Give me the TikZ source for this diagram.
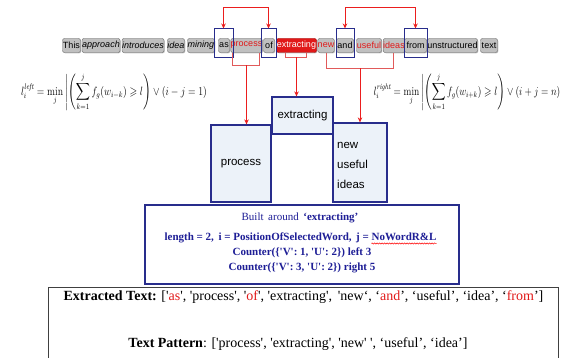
\documentclass[tikz,border=0pt]{standalone}
\usepackage{amsmath,amssymb}
\usepackage{fontspec}
\setsansfont{Liberation Sans}
\newfontfamily\tnr{Liberation Serif}
\usetikzlibrary{shadows,calc,decorations.pathmorphing,arrows.meta}
\definecolor{navy}{RGB}{40,45,140}
\definecolor{navytxt}{RGB}{30,30,150}
\definecolor{boxfill}{RGB}{236,242,249}
\definecolor{wgray}{RGB}{192,192,192}
\definecolor{wred}{RGB}{225,25,25}
\definecolor{ared}{RGB}{235,30,30}
\definecolor{bred}{RGB}{225,90,90}
\begin{document}
\begin{tikzpicture}[x=1pt,y=-1pt,
  word/.style={draw=black!60, rounded corners=2pt, fill=wgray, inner sep=0pt, minimum height=14pt,
    font=\fontsize{9}{10}\selectfont\sffamily,
    drop shadow={shadow xshift=0.8pt, shadow yshift=-0.8pt, opacity=0.45}},
  hl/.style={draw=navy, line width=1pt, inner sep=0pt, minimum height=29pt},
  redarr/.style={draw=ared, line width=1pt},
  tip/.style={-{Stealth[length=5pt,width=4.5pt]}},
  bracket/.style={draw=bred, line width=0.6pt},
  bbox/.style={draw=navy, line width=1.2pt, fill=boxfill, inner sep=0pt, font=\fontsize{11.5}{14}\selectfont\sffamily},
  bt/.style={text=navytxt, inner sep=0pt, font=\fontsize{11}{13}\selectfont\tnr\bfseries},
  ot/.style={inner sep=0pt, font=\fontsize{14}{16}\selectfont\tnr},
  fml/.style={inner sep=0pt, font=\fontsize{12}{14}\selectfont},
  wavy/.style={draw=red, line width=0.5pt, decorate, decoration={snake, amplitude=0.6pt, segment length=2.5pt}}
]
\useasboundingbox (0,0) rectangle (566,358);

% word row
\node[word, minimum width=18] (w1) at (71.5,45.5) {This};
\node[word, minimum width=38, font=\fontsize{9}{10}\selectfont\sffamily\itshape] (w2) at (101,45.5) {approach};
\node[word, minimum width=42, font=\fontsize{9}{10}\selectfont\sffamily\itshape] (w3) at (143,45.5) {introduces};
\node[word, minimum width=17, font=\fontsize{9}{10}\selectfont\sffamily\itshape] (w4) at (176,45.5) {idea};
\node[word, minimum width=27, font=\fontsize{9}{10}\selectfont\sffamily\itshape] (w5) at (201,45.5) {mining};
\node[word, minimum width=11] (w6) at (224,45.5) {as};
\node[word, minimum width=30, text=wred] (w7) at (246.5,45.5) {process};
\node[word, minimum width=11] (w8) at (269,45.5) {of};
\node[word, minimum width=40, fill=wred, draw=red!60!black, text=white] (w9) at (296.5,45.5) {extracting};
\node[word, minimum width=15, text=wred] (w10) at (326,45.5) {new};
\node[word, minimum width=17] (w11) at (345,45.5) {and};
\node[word, minimum width=25, text=wred] (w12) at (369,45.5) {useful};
\node[word, minimum width=19, text=wred] (w13) at (394,45.5) {ideas};
\node[word, minimum width=22] (w14) at (415.5,45.5) {from};
\node[word, minimum width=50] (w15) at (452.5,45.5) {unstructured};
\node[word, minimum width=17] (w16) at (489,45.5) {text};

% highlight rectangles
\node[hl, minimum width=19] (hlas) at (223.5,43.5) {};
\node[hl, minimum width=15] (hlof) at (268.5,43.5) {};
\node[hl, minimum width=18] (hland) at (345,43.5) {};
\node[hl, minimum width=23] (hlfrom) at (415.5,43.5) {};

% top arrows
\draw[redarr, {Stealth[length=5pt,width=4.5pt]}-{Stealth[length=5pt,width=4.5pt]}] (hlas.north) -- ++(0,-21) -| (hlof.north);
\draw[redarr, {Stealth[length=5pt,width=4.5pt]}-{Stealth[length=5pt,width=4.5pt]}] (hland.north) -- ++(0,-21) -| (hlfrom.north);

% boxes
\node[bbox, minimum width=60, minimum height=77] (procbox) at (241,163.5) {process};
\node[bbox, minimum width=61, minimum height=37] (exbox) at (302.5,115.5) {extracting};
\node[bbox, minimum width=54, minimum height=79] (nuibox) at (360,162.5) {};
\node[inner sep=0pt, anchor=west, align=left, font=\fontsize{11.5}{20}\selectfont\sffamily] (nuilab) at (337,165) {new\\useful\\ideas};

% brackets below and arrows
\draw[bracket] ([xshift=2pt]w7.south west) -- ++(0,12.5) coordinate (pb) -| ([xshift=-3pt]w7.south east);
\draw[redarr, tip] (pb -| w7.south) -- (procbox.north -| w7.south);
\draw[bracket] ([xshift=9pt]w9.south west) -- ++(0,4.5) coordinate (eb) -| ([xshift=-10pt]w9.south east);
\draw[redarr, tip] (eb -| w9.south) -- (exbox.north -| w9.south);
\draw[bracket] ([xshift=9pt]w10.south west) -- ++(0,15.5) coordinate (rb) -| ([xshift=10pt]w13.south west);
\draw[redarr, tip] (rb -| nuibox.north) -- (nuibox.north);

% formulas
\node[fml] (lf) at (114.5,92)
 {\scalebox{0.82}[1]{$l_i^{\mathit{left}} = \min\limits_j \left|\left(\displaystyle\sum_{k=1}^{j} f_g(w_{i-k}) \geqslant l\right) \vee (i-j=1)\right.$}};
\node[fml] (rf) at (467.5,92)
 {\scalebox{0.80}[1]{$l_i^{\mathit{right}} = \min\limits_j \left|\left(\displaystyle\sum_{k=1}^{j} f_g(w_{i+k}) \geqslant l\right) \vee (i+j=n)\right.$}};

% blue info box
\node[draw=navy, line width=1.2pt, fill=white, minimum width=314, minimum height=79] (bluebox) at (302,244.5) {};
\node[bt, font=\fontsize{11}{13}\selectfont\tnr] (l1) at (300,218) {Built\, around\, \textbf{‘extracting’}};
\node[bt, anchor=base] (l2) at (300.5,241) {length = 2,\, i = PositionOfSelectedWord,\, j = NoWordR\&L};
\node[bt, anchor=base east] (nw) at (l2.base east) {\phantom{NoWordR\&L}};
\draw[wavy] ([yshift=-2.5pt]nw.base west) -- ([yshift=-2.5pt]nw.base east);
\node[bt] (l3) at (302,253) {Counter(\{'V': 1, 'U': 2\}) left 3};
\node[bt] (l4) at (302,268) {Counter(\{'V': 3, 'U': 2\}) right 5};

% output box
\node[draw=black!75, line width=0.8pt, minimum width=510, minimum height=95] (outbox) at (303,334.5) {};
\node[ot] (ex) at (303.5,297) {\textbf{Extracted Text:} ['{\color{wred}as}', 'process', '{\color{wred}of}', 'extracting',\, 'new‘, ‘{\color{wred}and}’, ‘useful’, ‘idea’, ‘{\color{wred}from}’]};
\node[ot] (tp) at (298,344) {\textbf{Text Pattern}: ['process', 'extracting', 'new' ', ‘useful’, ‘idea’]};
\end{tikzpicture}
\end{document}
